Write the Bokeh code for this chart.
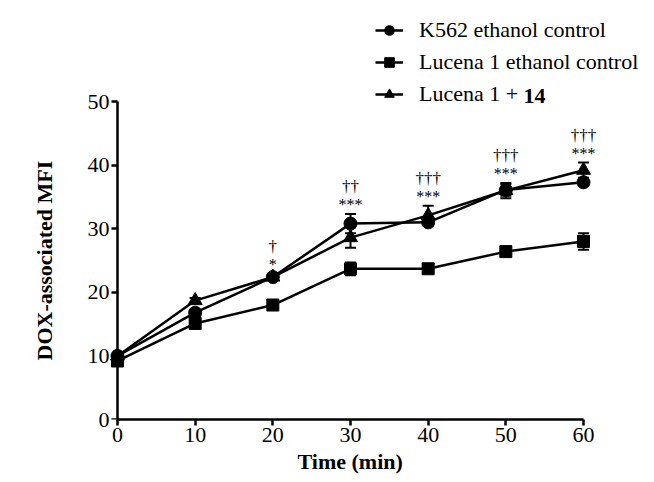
from bokeh.plotting import figure
from bokeh.models import (Range1d, FixedTicker, Whisker, TeeHead, ColumnDataSource,
                          Legend, LegendItem, Label, LinearAxis, Title)
from bokeh.embed import file_html
from bokeh.resources import INLINE
from bokeh.core.properties import value

# ---- data ----
time = [0, 10, 20, 30, 40, 50, 60]
k562 = [10.0, 16.8, 22.4, 30.8, 31.0, 36.1, 37.3]
k562_err = [0.3, 0.4, 0.5, 1.5, 0.5, 0.9, 0.5]
lucena = [9.2, 15.1, 18.0, 23.7, 23.7, 26.4, 28.0]
lucena_err = [0.4, 0.5, 0.5, 1.0, 0.5, 0.7, 1.3]
lucena14 = [10.0, 18.7, 22.4, 28.6, 32.1, 36.0, 39.2]
lucena14_err = [0.3, 0.4, 0.4, 1.6, 1.5, 1.2, 1.2]
x_ticks = [0, 10, 20, 30, 40, 50, 60]
y_ticks = [0, 10, 20, 30, 40, 50]
sig_stars = ["", "", "*", "***", "***", "***", "***"]
sig_daggers = ["", "", "\u2020", "\u2020\u2020", "\u2020\u2020\u2020", "\u2020\u2020\u2020", "\u2020\u2020\u2020"]
series_labels = ["K562 ethanol control", "Lucena 1 ethanol control", "Lucena 1 +"]
x_title = "Time (min)"
y_title = "DOX-associated MFI"

FONT = "Liberation Serif"
W, H = 646, 482
ML, MR, MT, MB = 109, 0, 10, 63
FW, FH = W - ML - MR, H - MT - MB
X0, X1 = -1.03, 68.11
Y0, Y1 = 0.0, 64.31
px_x = FW / (X1 - X0)
px_y = FH / (Y1 - Y0)


def dx(px):  # page pixel -> data x
    return X0 + (px - ML) / px_x


def dy(py):  # page pixel -> data y
    return Y1 - (py - MT) / px_y


p = figure(width=W, height=H, output_backend="svg", toolbar_location=None,
           x_range=Range1d(X0, X1), y_range=Range1d(Y0, Y1),
           min_border_left=ML, min_border_right=MR, min_border_top=MT,
           min_border_bottom=MB)
p.grid.visible = False
p.outline_line_color = None
p.background_fill_color = "white"
p.border_fill_color = "white"


def style(ax):
    ax.axis_line_width = 2.5
    ax.axis_line_color = "black"
    ax.major_tick_line_width = 2.5
    ax.major_tick_line_color = "black"
    ax.major_tick_out = 6
    ax.major_tick_in = 0
    ax.minor_tick_line_color = None
    ax.major_label_text_font = FONT
    ax.major_label_text_font_size = "22px"
    ax.major_label_text_color = "black"
    ax.major_label_standoff = 2


# x axis (standard, at frame bottom = 0)
xa = p.xaxis[0]
style(xa)
xa.ticker = FixedTicker(ticks=x_ticks)
xa.bounds = (x_ticks[0], x_ticks[-1])

# y axis tick labels (standard axis in left panel, no line/ticks)
ya = p.yaxis[0]
style(ya)
ya.ticker = FixedTicker(ticks=y_ticks)
ya.axis_line_color = None
ya.major_tick_line_color = None
ya.major_tick_out = 0
ya.major_label_standoff = 0

# y axis line + ticks at x = 0
ya2 = LinearAxis(fixed_location=0)
style(ya2)
ya2.ticker = FixedTicker(ticks=y_ticks)
ya2.bounds = (y_ticks[0], y_ticks[-1])
ya2.major_label_text_color = None
p.add_layout(ya2, "left")

# axis titles (as panel titles so they can be placed off-centre)
p.add_layout(Title(text=x_title, align="left", offset=188, standoff=4,
                   text_font=FONT, text_font_size="22px", text_font_style="bold",
                   text_color="black"), "below")
p.add_layout(Title(text=y_title, align="left", offset=59, standoff=55,
                   text_font=FONT, text_font_size="22px", text_font_style="bold",
                   text_color="black"), "left")

series = [(k562, k562_err, "circle", 13), (lucena, lucena_err, "square", 12),
          (lucena14, lucena14_err, "triangle", 14)]

items = []
for (vals, errs, marker, size), lab in zip(series, series_labels):
    src = ColumnDataSource(dict(x=time, y=vals,
                                lo=[v - e for v, e in zip(vals, errs)],
                                hi=[v + e for v, e in zip(vals, errs)]))
    w = Whisker(base="x", lower="lo", upper="hi", source=src, line_width=2,
                line_color="black",
                upper_head=TeeHead(size=11, line_width=2, line_color="black"),
                lower_head=TeeHead(size=11, line_width=2, line_color="black"))
    p.add_layout(w)
    lr = p.line("x", "y", source=src, line_width=2.5, line_color="black")
    sr = p.scatter("x", "y", source=src, marker=marker, size=size,
                   fill_color="black", line_color="black")
    items.append(LegendItem(label=lab, renderers=[lr, sr]))

legend = Legend(items=items, location=(266, 312), background_fill_alpha=0,
                border_line_color=None, padding=0, margin=0, spacing=6,
                glyph_width=28, glyph_height=24, label_height=24,
                label_standoff=16, label_text_font=FONT,
                label_text_font_size="22px", label_text_color="black")
p.add_layout(legend)

# bold "14" after the third legend label
p.add_layout(Label(x=dx(523), y=dy(95), text="14",
                   text_font=FONT, text_font_size="22px", text_font_style="bold",
                   text_baseline="middle", text_align="left", text_color="black"))

# significance marks
tops = [max(a + ae, b + be, c + ce) for a, ae, b, be, c, ce in
        zip(k562, k562_err, lucena, lucena_err, lucena14, lucena14_err)]
sig_src = ColumnDataSource(dict(x=time, ys=[t + 1.5 for t in tops],
                                yd=[t + 4.3 for t in tops],
                                s=sig_stars, d=sig_daggers))
p.text("x", "ys", text="s", source=sig_src, text_font=value(FONT),
       text_font_size="16px", text_align="center", text_baseline="middle",
       text_color="black")
p.text("x", "yd", text="d", source=sig_src, text_font=value(FONT),
       text_font_size="17px", text_align="center", text_baseline="middle",
       text_color="black")

open("out.html", "w").write(file_html(p, INLINE))
